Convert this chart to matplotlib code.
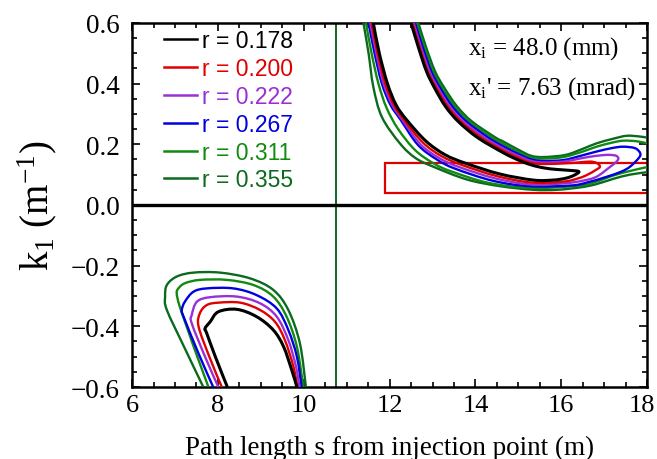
import matplotlib
matplotlib.use("Agg")
import matplotlib.pyplot as plt
from matplotlib.patches import Rectangle, PathPatch
from matplotlib.path import Path
from matplotlib.lines import Line2D
from matplotlib.ticker import MultipleLocator, FuncFormatter

plt.rcParams['font.family'] = 'serif'
plt.rcParams['font.serif'] = ['Liberation Serif', 'DejaVu Serif']
plt.rcParams['mathtext.fontset'] = 'custom'
plt.rcParams['mathtext.rm'] = 'Liberation Serif'
plt.rcParams['mathtext.it'] = 'Liberation Serif:italic'

# contour levels and colours
radii = ["0.178", "0.200", "0.222", "0.267", "0.311", "0.355"]
colors = ["#000000", "#e00000", "#9b2fd6", "#0000e0", "#108a10", "#0b6a1e"]
widths = [2.2, 1.7, 1.7, 1.7, 1.7, 1.7]

# upper right island: outer branch (left/lower), from the top edge down to the tip
outer_x = [
    [11.62, 11.76, 11.95, 12.15, 12.40, 12.85, 13.30, 13.78, 14.57, 15.35, 15.80, 16.10, 16.30, 16.41],
    [11.58, 11.72, 11.90, 12.10, 12.34, 12.78, 13.22, 13.70, 14.50, 15.30, 16.05, 16.40, 16.60, 16.80, 16.90],
    [11.55, 11.69, 11.86, 12.06, 12.30, 12.72, 13.15, 13.60, 14.45, 15.25, 16.05, 16.50, 16.82, 17.14, 17.28, 17.33],
    [11.51, 11.65, 11.82, 12.02, 12.26, 12.66, 13.10, 13.52, 14.40, 15.25, 16.21, 16.60, 17.06, 17.40, 17.60, 17.80, 17.84],
    [11.45, 11.58, 11.74, 11.93, 12.20, 12.60, 13.05, 13.45, 14.30, 15.30, 16.44, 16.80, 17.21, 17.60, 18.00],
    [11.39, 11.51, 11.62, 11.82, 12.24, 12.60, 13.02, 13.80, 14.57, 15.35, 15.90, 16.44, 16.80, 17.21, 17.60, 18.00],
]
outer_y = [
    [0.60, 0.50, 0.40, 0.33, 0.28, 0.21, 0.165, 0.137, 0.102, 0.082, 0.082, 0.088, 0.098, 0.110],
    [0.60, 0.50, 0.40, 0.33, 0.28, 0.205, 0.160, 0.131, 0.095, 0.074, 0.077, 0.088, 0.099, 0.115, 0.126],
    [0.60, 0.50, 0.40, 0.33, 0.28, 0.200, 0.155, 0.126, 0.088, 0.068, 0.071, 0.080, 0.093, 0.126, 0.142, 0.153],
    [0.60, 0.50, 0.40, 0.33, 0.28, 0.198, 0.150, 0.120, 0.080, 0.062, 0.064, 0.074, 0.093, 0.110, 0.126, 0.154, 0.170],
    [0.60, 0.50, 0.40, 0.32, 0.25, 0.180, 0.135, 0.110, 0.073, 0.056, 0.064, 0.076, 0.097, 0.112, 0.125],
    [0.60, 0.50, 0.39, 0.29, 0.203, 0.155, 0.126, 0.084, 0.062, 0.050, 0.050, 0.058, 0.068, 0.086, 0.100, 0.108],
]
# inner branch (right/upper), from the tip (or right edge) back up to the top edge
inner_x = [
    [16.41, 16.20, 15.90, 15.60, 15.30, 15.00, 14.65, 14.05, 13.60, 13.30, 13.05, 12.86, 12.67, 12.50],
    [16.90, 16.83, 16.67, 16.40, 16.05, 15.60, 15.30, 15.00, 14.65, 14.13, 13.66, 13.35, 13.09, 12.89, 12.70, 12.53],
    [17.33, 17.28, 17.14, 16.95, 16.67, 16.40, 16.05, 15.60, 15.30, 15.00, 14.65, 14.21, 13.72, 13.40, 13.13, 12.93, 12.73, 12.56],
    [17.84, 17.72, 17.45, 17.20, 16.82, 16.40, 16.05, 15.60, 15.30, 15.00, 14.65, 14.30, 13.79, 13.46, 13.18, 12.97, 12.77, 12.59],
    [18.00, 17.75, 17.45, 17.20, 16.82, 16.50, 16.05, 15.60, 15.30, 15.00, 14.65, 14.39, 13.86, 13.52, 13.23, 13.01, 12.81, 12.63],
    [18.00, 17.80, 17.52, 17.20, 16.82, 16.50, 16.10, 15.60, 15.30, 15.00, 14.65, 14.47, 13.92, 13.57, 13.28, 13.06, 12.85, 12.67],
]
inner_y = [
    [0.110, 0.114, 0.117, 0.122, 0.132, 0.148, 0.172, 0.222, 0.275, 0.325, 0.385, 0.440, 0.520, 0.600],
    [0.126, 0.138, 0.143, 0.140, 0.137, 0.135, 0.139, 0.155, 0.179, 0.222, 0.275, 0.325, 0.385, 0.440, 0.520, 0.600],
    [0.153, 0.162, 0.165, 0.164, 0.159, 0.152, 0.143, 0.140, 0.145, 0.162, 0.186, 0.222, 0.275, 0.325, 0.385, 0.440, 0.520, 0.600],
    [0.170, 0.187, 0.192, 0.188, 0.176, 0.160, 0.148, 0.145, 0.150, 0.168, 0.193, 0.222, 0.275, 0.325, 0.385, 0.440, 0.520, 0.600],
    [0.203, 0.210, 0.212, 0.206, 0.192, 0.176, 0.158, 0.153, 0.156, 0.175, 0.201, 0.222, 0.275, 0.325, 0.385, 0.440, 0.520, 0.600],
    [0.222, 0.226, 0.228, 0.218, 0.203, 0.185, 0.165, 0.158, 0.162, 0.182, 0.209, 0.222, 0.275, 0.325, 0.385, 0.440, 0.520, 0.600],
]

# lower left island (arches open towards the bottom)
arch_x = [
    [8.22, 7.94, 7.74, 7.70, 7.82, 8.01, 8.44, 8.90, 9.29, 9.53, 9.72, 9.84],
    [8.09, 7.80, 7.55, 7.58, 7.74, 8.01, 8.52, 8.98, 9.33, 9.56, 9.76, 9.85],
    [8.01, 7.70, 7.39, 7.39, 7.51, 7.82, 8.44, 8.98, 9.37, 9.64, 9.82, 9.90],
    [7.89, 7.55, 7.20, 7.16, 7.23, 7.43, 7.74, 8.36, 8.90, 9.37, 9.64, 9.84, 9.95],
    [7.78, 7.52, 7.27, 7.10, 7.04, 7.08, 7.23, 7.58, 8.21, 8.83, 9.29, 9.60, 9.84, 9.99],
    [7.66, 7.22, 6.81, 6.77, 6.81, 7.04, 7.43, 8.05, 8.75, 9.29, 9.64, 9.91, 10.05],
]
arch_y = [
    [-0.60, -0.50, -0.423, -0.407, -0.385, -0.352, -0.344, -0.368, -0.412, -0.467, -0.544, -0.60],
    [-0.60, -0.50, -0.401, -0.357, -0.330, -0.322, -0.322, -0.346, -0.385, -0.445, -0.533, -0.60],
    [-0.60, -0.50, -0.390, -0.363, -0.319, -0.304, -0.302, -0.324, -0.368, -0.445, -0.533, -0.60],
    [-0.60, -0.49, -0.368, -0.346, -0.319, -0.286, -0.275, -0.275, -0.297, -0.341, -0.412, -0.500, -0.60],
    [-0.60, -0.50, -0.40, -0.33, -0.291, -0.275, -0.258, -0.247, -0.247, -0.264, -0.302, -0.368, -0.467, -0.60],
    [-0.60, -0.47, -0.346, -0.302, -0.264, -0.236, -0.223, -0.223, -0.242, -0.280, -0.346, -0.456, -0.60],
]

s_marker = 10.75
box = (11.9, 0.0385, 18.2, 0.137)


def smooth(xs, ys):
    # Catmull-Rom through the read points, drawn as cubic Bezier segments
    pts = list(zip(xs, ys))
    verts = [pts[0]]
    codes = [Path.MOVETO]
    for k in range(len(pts) - 1):
        p0 = pts[max(k - 1, 0)]
        p1 = pts[k]
        p2 = pts[k + 1]
        p3 = pts[min(k + 2, len(pts) - 1)]
        c1 = (p1[0] + (p2[0] - p0[0]) / 6, p1[1] + (p2[1] - p0[1]) / 6)
        c2 = (p2[0] - (p3[0] - p1[0]) / 6, p2[1] - (p3[1] - p1[1]) / 6)
        verts += [c1, c2, p2]
        codes += [Path.CURVE4] * 3
    return Path(verts, codes)


def draw(ax, xs, ys, c, w, z):
    ax.add_patch(PathPatch(smooth(xs, ys), fill=False, edgecolor=c, lw=w, zorder=z,
                           capstyle="butt", joinstyle="round"))


fig = plt.figure(figsize=(6.57, 4.60), dpi=100)
ax = fig.add_axes([0.201, 0.1565, 0.784, 0.7915])

ax.axvline(s_marker, color="#0b6a1e", lw=1.4, zorder=1)
ax.axhline(0.0, color="black", lw=2.4, zorder=1)
ax.add_patch(Rectangle((box[0], box[1]), box[2] - box[0], box[3] - box[1],
                       fill=False, edgecolor="#e00000", lw=1.6, zorder=2))

handles = []
for i in range(len(radii)):
    c, w = colors[i], widths[i]
    z = 10 - i
    if i < 4:
        draw(ax, outer_x[i] + inner_x[i][1:], outer_y[i] + inner_y[i][1:], c, w, z)
    else:
        draw(ax, outer_x[i], outer_y[i], c, w, z)
        draw(ax, inner_x[i], inner_y[i], c, w, z)
    draw(ax, arch_x[i], arch_y[i], c, w, z)
    handles.append(Line2D([], [], color=c, lw=1.8, label="r = " + radii[i]))

ax.set_xlim(6, 18)
ax.set_ylim(-0.6, 0.6)
ax.xaxis.set_major_locator(MultipleLocator(2))
ax.xaxis.set_minor_locator(MultipleLocator(0.5))
ax.yaxis.set_major_locator(MultipleLocator(0.2))
ax.yaxis.set_minor_locator(MultipleLocator(0.05))
# the label at the right end is written separately so it stays inside the figure
ax.xaxis.set_major_formatter(FuncFormatter(lambda v, p: "" if round(v) == 18 else "%d" % round(v)))
ax.yaxis.set_major_formatter(FuncFormatter(lambda v, p: ("%.1f" % v).replace("-", "\u2212")))
ax.tick_params(which="both", direction="in", top=True, right=True, width=1.2)
ax.tick_params(which="major", length=6)
ax.tick_params(which="minor", length=3.5)
ax.tick_params(axis="x", labelsize=19, pad=5)
ax.tick_params(axis="y", labelsize=19.5, pad=9)
for sp in ax.spines.values():
    sp.set_linewidth(1.8)
ax.annotate("18", xy=(18, -0.6), xycoords="data", xytext=(8, -7), textcoords="offset pixels",
            ha="right", va="top", fontsize=19, annotation_clip=False)

ax.set_xlabel("Path length s from injection point (m)", fontsize=19.5, labelpad=13.5)
ax.set_ylabel(r"$\mathregular{k_1\ (m^{-1})}$", fontsize=28, labelpad=8)

ax.text(0.652, 0.915, r"$\mathregular{x_i}$ = 48.0 (mm)", transform=ax.transAxes, fontsize=18)
ax.text(0.652, 0.805, r"$\mathregular{x_i}$' = 7.63 (mrad)", transform=ax.transAxes, fontsize=18)

leg = ax.legend(handles=handles, loc="upper left", bbox_to_anchor=(0.039, 1.014), frameon=False,
                borderpad=0, handlelength=1.45, handletextpad=0.22, labelspacing=0.21,
                labelcolor="linecolor", prop={"family": "Liberation Sans", "size": 16.5})

fig.savefig("out.png", dpi=100)
